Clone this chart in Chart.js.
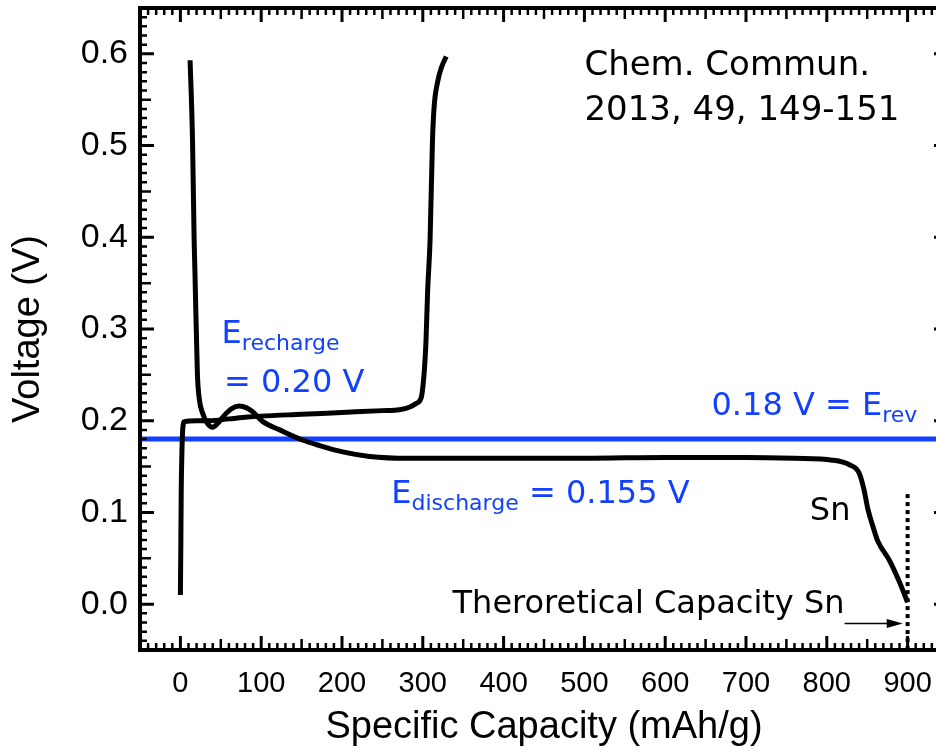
<!DOCTYPE html>
<html><head><meta charset="utf-8">
<script src="https://cdn.jsdelivr.net/npm/chart.js@4.4.1/dist/chart.umd.min.js"></script>
<style>
html,body{margin:0;padding:0;background:#fff;overflow:hidden;}
#wrap{position:relative;width:960px;height:750px;}
canvas{display:block;}
</style></head><body>
<div id="wrap"><canvas id="c" width="960" height="750" style="width:960px;height:750px"></canvas></div>
<script>
// ---- data ----
const dischargeCapacity = [12, 15, 17, 18, 21, 23.5, 27.6, 33.5, 40, 46, 56.6, 63, 73, 82, 89, 102, 123, 151, 172, 201, 234, 283, 400, 500, 600, 700, 760, 807, 828, 840, 846, 851, 857, 863, 878, 890, 900];
const dischargeVoltage  = [0.593, 0.506, 0.397, 0.362, 0.252, 0.223, 0.208, 0.197, 0.193, 0.197, 0.208, 0.213, 0.216, 0.214, 0.210, 0.199, 0.190, 0.179, 0.173, 0.166, 0.161, 0.159, 0.159, 0.159, 0.160, 0.160, 0.159, 0.157, 0.152, 0.143, 0.125, 0.103, 0.085, 0.069, 0.047, 0.024, 0.002];
const chargeCapacity = [0, 0.5, 1, 2, 3, 5, 20, 36, 60, 83, 100, 150, 200, 250, 271, 284, 292, 298, 301, 303, 304, 306, 309, 312, 314, 318, 323, 329];
const chargeVoltage  = [0.010, 0.060, 0.121, 0.170, 0.192, 0.199, 0.200, 0.200, 0.202, 0.204, 0.205, 0.207, 0.209, 0.211, 0.212, 0.215, 0.219, 0.225, 0.245, 0.270, 0.288, 0.342, 0.397, 0.506, 0.542, 0.568, 0.585, 0.597];
const reversiblePotential = 0.18;     // V
const theoreticalCapacity = 900;      // mAh/g
const theoreticalMarkerVoltage = [0.12, -0.05];
const xTickValues = [0, 100, 200, 300, 400, 500, 600, 700, 800, 900];
const yTickValues = [0.0, 0.1, 0.2, 0.3, 0.4, 0.5, 0.6];
const xRange = [-50, 950];
const yRange = [-0.05, 0.65];

const BLUE = '#1240ff';
const toPts = (xs, ys) => xs.map((x, i) => ({x: x, y: ys[i]}));

const framePlugin = {
  id: 'frame',
  afterDatasetsDraw(chart) {
    const {ctx, chartArea: a, scales: {x, y}} = chart;
    ctx.save();
    // inward ticks
    ctx.strokeStyle = '#000';
    ctx.lineCap = 'butt';
    for (let v = xRange[0]; v <= xRange[1] + 1e-9; v += 10) {
      const r = Math.round(v);
      const len = (r % 100 === 0) ? 14 : (r % 50 === 0 ? 11 : 7);
      ctx.lineWidth = (r % 100 === 0) ? 3 : 2.5;
      const px = x.getPixelForValue(r);
      ctx.beginPath();
      ctx.moveTo(px, a.top); ctx.lineTo(px, a.top + len);
      ctx.moveTo(px, a.bottom); ctx.lineTo(px, a.bottom - len);
      ctx.stroke();
    }
    for (let i = Math.round(yRange[0] * 100); i <= Math.round(yRange[1] * 100); i++) {
      const len = (i % 10 === 0) ? 14 : (i % 5 === 0 ? 11 : 7);
      ctx.lineWidth = (i % 10 === 0) ? 3 : 2.5;
      const py = y.getPixelForValue(i / 100);
      ctx.beginPath();
      ctx.moveTo(a.left, py); ctx.lineTo(a.left + len, py);
      ctx.moveTo(a.right, py); ctx.lineTo(a.right - len, py);
      ctx.stroke();
    }
    // frame
    ctx.lineWidth = 4;
    ctx.strokeRect(a.left, a.top, a.right - a.left, a.bottom - a.top);

    // annotations
    const X = v => x.getPixelForValue(v), Y = v => y.getPixelForValue(v);
    ctx.fillStyle = '#000';
    ctx.textBaseline = 'alphabetic';
    ctx.textAlign = 'left';
    ctx.font = '34px "DejaVu Sans"';
    ctx.fillText('Chem. Commun.', X(500), Y(0.577));
    ctx.fillText('2013, 49, 149-151', X(500), Y(0.528));
    ctx.font = '32px "DejaVu Sans"';
    ctx.fillText('Sn', X(779), Y(0.092));
    ctx.textAlign = 'right';
    ctx.fillText('Theroretical Capacity Sn', X(822), Y(-0.010));

    // arrow
    const ay = Y(-0.021), ax0 = X(822), ax1 = X(894);
    ctx.lineWidth = 1.5;
    ctx.beginPath(); ctx.moveTo(ax0, ay); ctx.lineTo(ax1 - 10, ay); ctx.stroke();
    ctx.beginPath(); ctx.moveTo(ax1, ay); ctx.lineTo(ax1 - 16, ay - 4.5); ctx.lineTo(ax1 - 16, ay + 4.5); ctx.closePath(); ctx.fill();

    // blue texts with subscripts
    const drawParts = (parts, px, py, align) => {
      let w = 0;
      parts.forEach(p => { ctx.font = (p.sub ? '22px' : '32px') + ' "DejaVu Sans"'; w += ctx.measureText(p.t).width; });
      let cx = align === 'right' ? px - w : px;
      ctx.textAlign = 'left';
      parts.forEach(p => {
        ctx.font = (p.sub ? '22px' : '32px') + ' "DejaVu Sans"';
        ctx.fillText(p.t, cx, py + (p.sub ? 7 : 0));
        cx += ctx.measureText(p.t).width;
      });
    };
    ctx.fillStyle = BLUE;
    drawParts([{t: 'E'}, {t: 'recharge', sub: true}], X(51), Y(0.285));
    drawParts([{t: '= 0.20 V'}], X(54), Y(0.231));
    drawParts([{t: '0.18 V = E'}, {t: 'rev', sub: true}], X(912), Y(0.206), 'right');
    drawParts([{t: 'E'}, {t: 'discharge', sub: true}, {t: ' = 0.155 V'}], X(261), Y(0.110));
    ctx.restore();
  }
};

const noPad = s => { s.paddingTop = 0; s.paddingBottom = 0; s.paddingLeft = 0; s.paddingRight = 0; };

new Chart(document.getElementById('c'), {
  type: 'line',
  data: {
    datasets: [
      {label: 'Discharge (Sn)', data: toPts(dischargeCapacity, dischargeVoltage), borderColor: '#000', borderWidth: 5, pointRadius: 0, cubicInterpolationMode: 'monotone', fill: false},
      {label: 'Recharge (Sn)', data: toPts(chargeCapacity, chargeVoltage), borderColor: '#000', borderWidth: 5, pointRadius: 0, cubicInterpolationMode: 'monotone', fill: false},
      {label: 'Theoretical capacity', data: theoreticalMarkerVoltage.map(v => ({x: theoreticalCapacity, y: v})), borderColor: '#000', borderWidth: 4, borderDash: [4, 4], pointRadius: 0, fill: false},
      {label: 'E_rev', data: xRange.map(v => ({x: v, y: reversiblePotential})), borderColor: BLUE, borderWidth: 5, pointRadius: 0, fill: false}
    ]
  },
  options: {
    responsive: false,
    animation: false,
    layout: {padding: {left: 0, right: 12, top: 8, bottom: 0}},
    plugins: {legend: {display: false}, tooltip: {enabled: false}},
    scales: {
      x: {
        type: 'linear', min: xRange[0], max: xRange[1],
        grid: {display: false, drawTicks: false}, border: {display: false},
        afterBuildTicks: s => { s.ticks = xTickValues.map(v => ({value: v})); },
        afterFit: s => { s.height = 100; noPad(s); },
        ticks: {font: {family: 'Liberation Sans', size: 29}, color: '#000', padding: 17, maxRotation: 0, autoSkip: false},
        title: {display: true, text: 'Specific Capacity (mAh/g)', font: {family: 'Liberation Sans', size: 38}, color: '#000', padding: {top: 0, bottom: 0}}
      },
      y: {
        type: 'linear', min: yRange[0], max: yRange[1],
        grid: {display: false, drawTicks: false}, border: {display: false},
        afterBuildTicks: s => { s.ticks = yTickValues.map(v => ({value: v})); },
        afterFit: s => { s.width = 140; noPad(s); },
        ticks: {font: {family: 'Liberation Sans', size: 34}, color: '#000', padding: 12, autoSkip: false, callback: v => v.toFixed(1)},
        title: {display: true, text: 'Voltage (V)', font: {family: 'Liberation Sans', size: 38}, color: '#000', padding: {top: 6, bottom: 0}}
      }
    }
  },
  plugins: [framePlugin]
});
</script>
</body></html>
